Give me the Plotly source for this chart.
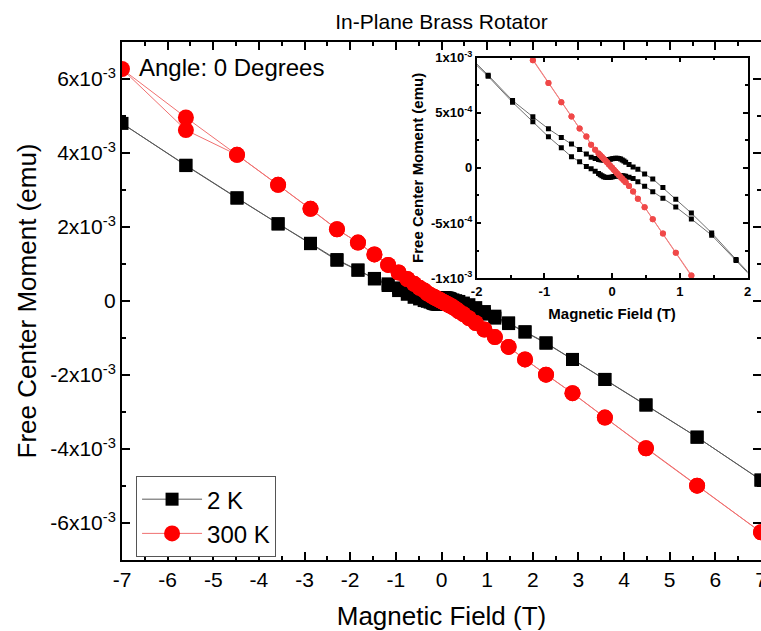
import plotly.graph_objects as go

# ---------------- data (moment values in units of 10^-3 emu) ----------------
field_down = [7, 5.6, 4.48, 3.58, 2.87, 2.29, 1.83, 1.47, 1.17, 0.94, 0.75, 0.60, 0.48, 0.38, 0.31,
              0.25, 0.2, 0.175, 0.15, 0.125, 0.1, 0.075, 0.05, 0.025, 0, -0.025, -0.05, -0.075, -0.1,
              -0.125, -0.15, -0.175, -0.2, -0.25, -0.31, -0.38, -0.48, -0.60, -0.75, -0.94, -1.17,
              -1.47, -1.83, -2.29, -2.87, -3.58, -4.48, -5.6, -7]
field_up = [-5.6, -4.48, -3.58, -2.87, -2.29, -1.83, -1.47, -1.17, -0.94, -0.75, -0.60, -0.48, -0.38,
            -0.31, -0.25, -0.2, -0.175, -0.15, -0.125, -0.1, -0.075, -0.05, -0.025, 0, 0.025, 0.05,
            0.075, 0.1, 0.125, 0.15, 0.175, 0.2, 0.25, 0.31, 0.38, 0.48, 0.60, 0.75, 0.94, 1.17, 1.47,
            1.83, 2.29, 2.87, 3.58, 4.48, 5.6, 7]

m_2K_down = [-4.84, -3.68, -2.81, -2.12, -1.58, -1.13, -0.83, -0.59, -0.41, -0.285, -0.179, -0.10,
             -0.056, -0.012, 0.009, 0.03, 0.05, 0.062, 0.072, 0.08, 0.085, 0.088, 0.088, 0.086, 0.082,
             0.078, 0.075, 0.072, 0.071, 0.071, 0.072, 0.074, 0.077, 0.084, 0.096, 0.125, 0.166, 0.216,
             0.276, 0.354, 0.463, 0.61, 0.84, 1.12, 1.56, 2.09, 2.79, 3.67, 4.80]
m_2K_up = [3.66, 2.78, 2.08, 1.55, 1.10, 0.83, 0.595, 0.418, 0.282, 0.182, 0.10, 0.056, 0.012, -0.009,
           -0.03, -0.05, -0.062, -0.072, -0.08, -0.085, -0.088, -0.088, -0.086, -0.082, -0.078, -0.075,
           -0.072, -0.071, -0.071, -0.072, -0.074, -0.077, -0.084, -0.096, -0.125, -0.166, -0.216,
           -0.276, -0.354, -0.463, -0.61, -0.84, -1.14, -1.58, -2.12, -2.81, -3.68, -4.84]

m_300K_down = [-6.25, -4.99, -3.98, -3.15, -2.49, -1.99, -1.58, -1.24, -0.975, -0.77, -0.595, -0.465,
               -0.356, -0.28, -0.215, -0.165, -0.13, -0.114, -0.098, -0.082, -0.066, -0.05, -0.033,
               -0.017, 0.0, 0.017, 0.033, 0.05, 0.066, 0.082, 0.098, 0.114, 0.13, 0.165, 0.21, 0.285,
               0.357, 0.465, 0.594, 0.77, 0.976, 1.26, 1.58, 1.94, 2.49, 3.14, 3.95, 4.96, 6.27]
m_300K_up = [4.62, 3.95, 3.14, 2.49, 1.94, 1.58, 1.26, 0.976, 0.77, 0.594, 0.465, 0.357, 0.285, 0.21,
             0.165, 0.13, 0.114, 0.098, 0.082, 0.066, 0.05, 0.033, 0.017, 0.0, -0.017, -0.033, -0.05,
             -0.066, -0.082, -0.098, -0.114, -0.13, -0.165, -0.215, -0.28, -0.356, -0.465, -0.595,
             -0.77, -0.975, -1.24, -1.58, -1.99, -2.49, -3.15, -3.98, -4.99, -6.25]

series_names = ["2 K", "300 K"]

x_tickvals = [-7, -6, -5, -4, -3, -2, -1, 0, 1, 2, 3, 4, 5, 6, 7]
x_ticktext = ["-7", "-6", "-5", "-4", "-3", "-2", "-1", "0", "1", "2", "3", "4", "5", "6", "7"]
y_tickvals = [-6, -4, -2, 0, 2, 4, 6]
y_ticktext = ["-6x10<sup>-3</sup>", "-4x10<sup>-3</sup>", "-2x10<sup>-3</sup>", "0",
              "2x10<sup>-3</sup>", "4x10<sup>-3</sup>", "6x10<sup>-3</sup>"]
inset_x_tickvals = [-2, -1, 0, 1, 2]
inset_x_ticktext = ["-2", "-1", "0", "1", "2"]
inset_y_tickvals = [-1, -0.5, 0, 0.5, 1]
inset_y_ticktext = ["-1x10<sup>-3</sup>", "-5x10<sup>-4</sup>", "0", "5x10<sup>-4</sup>", "1x10<sup>-3</sup>"]

# ---------------- figure ----------------
FONT = "Liberation Sans, Arial, sans-serif"
x_2K = field_down + field_up
y_2K = m_2K_down + m_2K_up
x_300K = field_down + field_up
y_300K = m_300K_down + m_300K_up

fig = go.Figure()
fig.add_trace(go.Scatter(x=x_2K, y=y_2K, name=series_names[0], mode="lines+markers",
                         line=dict(color="#5a5a5a", width=1),
                         marker=dict(symbol="square", size=13, color="black", line=dict(width=0)),
                         xaxis="x", yaxis="y"))
fig.add_trace(go.Scatter(x=x_300K, y=y_300K, name=series_names[1], mode="lines+markers",
                         line=dict(color="#f07070", width=1),
                         marker=dict(symbol="circle", size=16, color="#ff0000", line=dict(width=0)),
                         xaxis="x", yaxis="y"))
fig.add_trace(go.Scatter(x=x_2K, y=y_2K, name=series_names[0], mode="lines+markers", showlegend=False,
                         line=dict(color="#707070", width=1),
                         marker=dict(symbol="square", size=5, color="black", line=dict(width=0)),
                         xaxis="x2", yaxis="y2"))
fig.add_trace(go.Scatter(x=x_300K, y=y_300K, name=series_names[1], mode="lines+markers", showlegend=False,
                         line=dict(color="#f08080", width=1),
                         marker=dict(symbol="circle", size=6, color="#f04848", line=dict(width=0)),
                         xaxis="x2", yaxis="y2"))

main_axis = dict(showline=True, linecolor="black", linewidth=2, mirror="allticks",
                 ticks="inside", ticklen=8, tickwidth=2, tickcolor="black", automargin=False,
                 ticklabeloverflow="allow",
                 showgrid=False, zeroline=False, tickfont=dict(family=FONT, size=21, color="black"))

fig.update_layout(
    width=761, height=631, autosize=False,
    margin=dict(l=122, r=0, t=42, b=71, autoexpand=False),
    paper_bgcolor="white", plot_bgcolor="white",
    font=dict(family=FONT, color="black"),
    title=dict(text="In-Plane Brass Rotator", x=0.5, xref="paper", xanchor="center",
               y=1 - 22 / 631, yref="container", yanchor="middle",
               font=dict(family=FONT, size=21, color="black")),
    xaxis=dict(main_axis, range=[-7, 7], tickmode="array", tickvals=x_tickvals, ticktext=x_ticktext,
               minor=dict(ticks="inside", ticklen=4, tickwidth=2, tickcolor="black", dtick=0.5, tick0=0, showgrid=False),
               title=dict(text="Magnetic Field (T)", font=dict(family=FONT, size=26), standoff=22)),
    yaxis=dict(main_axis, range=[-7, 7], tickmode="array", tickvals=y_tickvals, ticktext=y_ticktext,
               minor=dict(ticks="inside", ticklen=4, tickwidth=2, tickcolor="black", dtick=1, tick0=0, showgrid=False),
               title=dict(text="Free Center Moment (emu)", font=dict(family=FONT, size=26), standoff=6)),
    xaxis2=dict(domain=[0.555, 0.979], anchor="y2", range=[-2, 2], showline=True, linecolor="black",
                linewidth=1.5, mirror="allticks", ticks="inside", ticklen=5, tickwidth=1.5, tickcolor="black",
                automargin=False,
                showgrid=False, zeroline=False, tickmode="array", tickvals=inset_x_tickvals, ticktext=inset_x_ticktext,
                tickfont=dict(family=FONT, size=13, weight="bold", color="black"),
                minor=dict(ticks="inside", ticklen=3, tickwidth=1.5, tickcolor="black", dtick=0.5, tick0=0, showgrid=False),
                title=dict(text="Magnetic Field (T)", font=dict(family=FONT, size=15, weight="bold"), standoff=11)),
    yaxis2=dict(domain=[0.544, 0.970], anchor="x2", range=[-1, 1], showline=True, linecolor="black",
                linewidth=1.5, mirror="allticks", ticks="inside", ticklen=5, tickwidth=1.5, tickcolor="black",
                automargin=False,
                showgrid=False, zeroline=False, tickmode="array", tickvals=inset_y_tickvals, ticktext=inset_y_ticktext,
                tickfont=dict(family=FONT, size=13, weight="bold", color="black"),
                minor=dict(ticks="inside", ticklen=3, tickwidth=1.5, tickcolor="black", dtick=0.25, tick0=0, showgrid=False),
                title=dict(text="Free Center Moment (emu)", font=dict(family=FONT, size=15, weight="bold"), standoff=4)),
    legend=dict(x=0.022, y=0.162, xanchor="left", yanchor="top", bgcolor="white",
                bordercolor="#555555", borderwidth=1, font=dict(family=FONT, size=24, color="black"),
                itemwidth=60, tracegroupgap=0),
    annotations=[dict(text="Angle: 0 Degrees", x=0.0235, y=0.95, xref="paper", yref="paper",
                      xanchor="left", yanchor="middle", showarrow=False,
                      font=dict(family=FONT, size=24, color="black"))],
)

fig.write_html("out.html", config={"displayModeBar": False},
               post_script="document.body.style.margin='0';document.body.style.overflow='hidden';")
